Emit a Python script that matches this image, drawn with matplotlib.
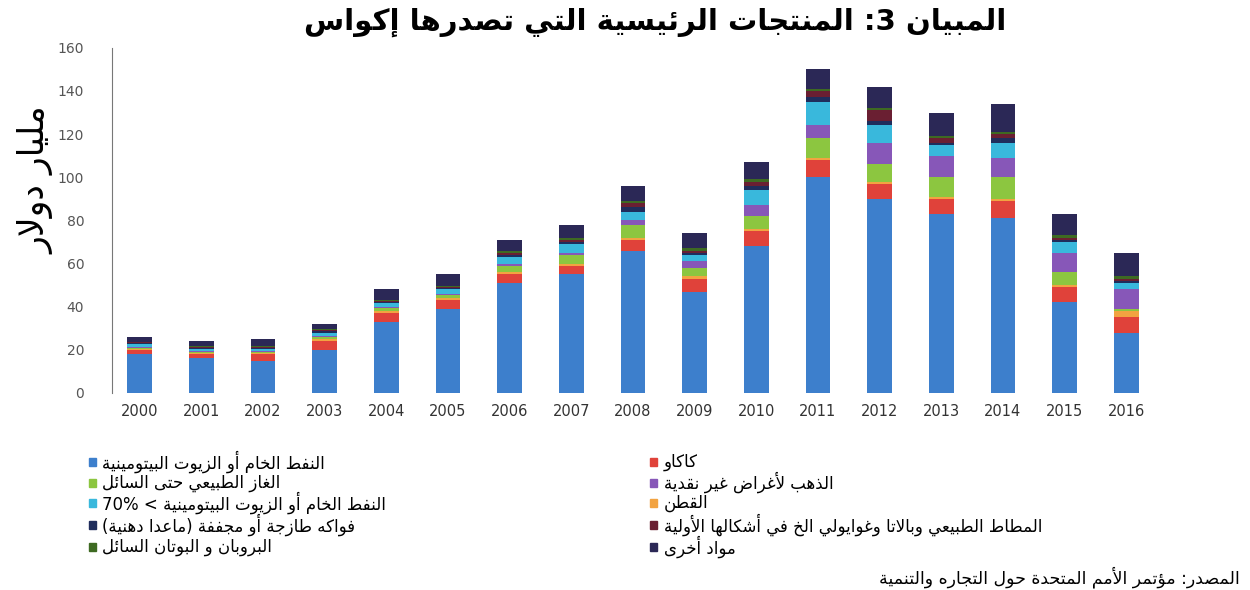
import matplotlib
matplotlib.use("Agg")
import numpy as np
import matplotlib.pyplot as plt
from matplotlib.patches import Rectangle

plt.rcParams['font.family'] = ['DejaVu Sans']

YEARS = [str(y) for y in range(2000, 2017)]

# billion USD (bottom to top of each stack)
crude_oil = [18, 16, 15, 20, 33, 39, 51, 55, 66, 47, 68, 100, 90, 83, 81, 42, 28]
cocoa = [2, 2, 3, 4, 4, 4, 4, 4, 5, 6, 7, 8, 7, 7, 8, 7, 7]
cotton = [0.5, 0.5, 0.5, 1, 1, 1, 1, 1, 1, 1, 1, 1, 1, 1, 1, 1, 3]
gas = [0.5, 0.5, 0.5, 1, 1.5, 1.5, 3, 4, 6, 4, 6, 9, 8, 9, 10, 6, 1]
gold = [0.5, 0.5, 0.5, 0.5, 0.5, 0.5, 1, 1, 2, 3, 5, 6, 10, 10, 9, 9, 9]
oil_70 = [1, 1, 1, 1.5, 1.5, 2, 3, 4, 4, 3, 7, 11, 8, 5, 7, 5, 3]
fruits = [0.5, 0.5, 0.5, 0.5, 0.5, 0.5, 1, 1, 2, 1, 2, 2, 2, 1, 2, 1, 1]
rubber = [0.5, 0.5, 0.5, 0.5, 0.5, 0.5, 1, 1, 2, 1, 2, 3, 5, 2, 2, 1, 1]
propane = [0.3, 0.3, 0.3, 0.5, 0.5, 0.5, 1, 1, 1, 1, 1, 1, 1, 1, 1, 1, 1]
other = [2.2, 2.2, 3.2, 2.5, 5, 5.5, 5, 6, 7, 7, 8, 9, 10, 11, 13, 10, 11]

TITLE = "المبيان 3: المنتجات الرئيسية التي تصدرها إكواس"
YLABEL = "مليار دولار"
SOURCE = "المصدر: مؤتمر الأمم المتحدة حول التجاره والتنمية"

LABELS = {
    "crude_oil": "النفط الخام أو الزيوت البيتومينية",
    "gas": "الغاز الطبيعي حتى السائل",
    "oil_70": "النفط الخام أو الزيوت البيتومينية < 70%",
    "fruits": "فواكه طازجة أو مجففة (ماعدا دهنية)",
    "propane": "البروبان و البوتان السائل",
    "cocoa": "كاكاو",
    "gold": "الذهب لأغراض غير نقدية",
    "cotton": "القطن",
    "rubber": "المطاط الطبيعي وبالاتا وغوايولي الخ في أشكالها الأولية",
    "other": "مواد أخرى",
}

COLORS = {
    "crude_oil": "#3d7fcc", "cocoa": "#e0423a", "cotton": "#f2a341",
    "gas": "#8cc640", "gold": "#8757b8", "oil_70": "#39b8dc",
    "fruits": "#1f2d5c", "rubber": "#6a1f32", "propane": "#3e6a22",
    "other": "#2b2856",
}

series = [("crude_oil", crude_oil), ("cocoa", cocoa), ("cotton", cotton),
          ("gas", gas), ("gold", gold), ("oil_70", oil_70),
          ("fruits", fruits), ("rubber", rubber), ("propane", propane),
          ("other", other)]

legend_left = ["crude_oil", "gas", "oil_70", "fruits", "propane"]
legend_right = ["cocoa", "gold", "cotton", "rubber", "other"]

# --- tiny arabic shaper + rtl ordering (matplotlib does neither) ---
FORMS = {
    'ء': 'ﺀ', 'آ': 'ﺁﺂ', 'أ': 'ﺃﺄ', 'ؤ': 'ﺅﺆ', 'إ': 'ﺇﺈ', 'ئ': 'ﺉﺊﺋﺌ',
    'ا': 'ﺍﺎ', 'ب': 'ﺏﺐﺑﺒ', 'ة': 'ﺓﺔ', 'ت': 'ﺕﺖﺗﺘ', 'ث': 'ﺙﺚﺛﺜ',
    'ج': 'ﺝﺞﺟﺠ', 'ح': 'ﺡﺢﺣﺤ', 'خ': 'ﺥﺦﺧﺨ', 'د': 'ﺩﺪ', 'ذ': 'ﺫﺬ',
    'ر': 'ﺭﺮ', 'ز': 'ﺯﺰ', 'س': 'ﺱﺲﺳﺴ', 'ش': 'ﺵﺶﺷﺸ', 'ص': 'ﺹﺺﺻﺼ',
    'ض': 'ﺽﺾﺿﻀ', 'ط': 'ﻁﻂﻃﻄ', 'ظ': 'ﻅﻆﻇﻈ', 'ع': 'ﻉﻊﻋﻌ', 'غ': 'ﻍﻎﻏﻐ',
    'ف': 'ﻑﻒﻓﻔ', 'ق': 'ﻕﻖﻗﻘ', 'ك': 'ﻙﻚﻛﻜ', 'ل': 'ﻝﻞﻟﻠ', 'م': 'ﻡﻢﻣﻤ',
    'ن': 'ﻥﻦﻧﻨ', 'ه': 'ﻩﻪﻫﻬ', 'و': 'ﻭﻮ', 'ى': 'ﻯﻰ', 'ي': 'ﻱﻲﻳﻴ',
}
LAM_ALEF = {'ا': 'ﻻﻼ', 'أ': 'ﻷﻸ', 'إ': 'ﻹﻺ', 'آ': 'ﻵﻶ'}
MIRROR = {'(': ')', ')': '('}
LTR_CHARS = set("0123456789%.,ABCDEFGHIJKLMNOPQRSTUVWXYZabcdefghijklmnopqrstuvwxyz")


def shape_run(run):
    out = []
    prev_join = False
    i = 0
    while i < len(run):
        c = run[i]
        nxt = run[i + 1] if i + 1 < len(run) else None
        if c == 'ل' and nxt in LAM_ALEF:
            out.append(LAM_ALEF[nxt][1 if prev_join else 0])
            prev_join = False
            i += 2
            continue
        f = FORMS[c]
        fwd = len(f) == 4
        back = len(f) >= 2 and prev_join
        nxt_ok = nxt is not None and len(FORMS[nxt]) >= 2
        if back and fwd and nxt_ok:
            g = f[3]
        elif back:
            g = f[1]
        elif fwd and nxt_ok:
            g = f[2]
        else:
            g = f[0]
        out.append(g)
        prev_join = fwd
        i += 1
    return ''.join(reversed(out))


def kind(ch):
    if ch in FORMS:
        return 'ar'
    if ch in LTR_CHARS:
        return 'ltr'
    return ch  # each neutral char is its own run


def shape_word(word):
    runs = []
    for ch in word:
        k = kind(ch)
        if runs and runs[-1][0] == k and k in ('ar', 'ltr'):
            runs[-1][1] += ch
        else:
            runs.append([k, ch])
    out = []
    for k, txt in reversed(runs):
        if k == 'ar':
            out.append(shape_run(txt))
        elif k == 'ltr':
            out.append(txt)
        else:
            out.append(MIRROR.get(txt, txt))
    return ''.join(out)


def ar(text):
    # visual left-to-right string of an rtl paragraph
    return ' '.join(shape_word(w) for w in reversed(text.split(' ')))


fig = plt.figure(figsize=(12.5, 5.9), dpi=100)
ax = fig.add_axes([0.0896, 0.334, 0.842, 0.585])

x = np.arange(len(YEARS))
bottom = np.zeros(len(YEARS))
for key, vals in series:
    ax.bar(x, vals, width=0.4, bottom=bottom, color=COLORS[key], linewidth=0)
    bottom += np.array(vals)

ax.set_ylim(0, 160)
ax.set_xlim(-0.45, 16.62)
ax.set_yticks(range(0, 161, 20))
ax.set_xticks(x)
ax.set_xticklabels(YEARS, fontsize=10.5, color="#333333")
ax.tick_params(axis='y', labelsize=10, colors="#555555", length=0, pad=20)
ax.tick_params(axis='x', length=0, pad=8)
for s in ['top', 'right', 'bottom']:
    ax.spines[s].set_visible(False)
ax.spines['left'].set_color("#777777")
ax.spines['left'].set_linewidth(0.8)

fig.text(0.524, 0.962, ar(TITLE), ha='center', va='center', fontsize=21,
         fontweight='bold')
fig.text(0.029, 0.695, ar(YLABEL), rotation=90, ha='center',
         va='center', fontsize=25)

# legend in two columns, drawn by hand to keep the reference spacing
rows_y = [0.217, 0.182, 0.148, 0.110, 0.073]
for col_x, keys in [(0.071, legend_left), (0.520, legend_right)]:
    for yy, key in zip(rows_y, keys):
        fig.patches.append(Rectangle((col_x, yy - 0.007), 0.0055, 0.0135,
                                     transform=fig.transFigure,
                                     color=COLORS[key]))
        fig.text(col_x + 0.011, yy, ar(LABELS[key]), ha='left',
                 va='center', fontsize=12)

fig.text(0.992, 0.022, ar(SOURCE), ha='right', va='center', fontsize=12.5)

fig.savefig("out.png", dpi=100)
